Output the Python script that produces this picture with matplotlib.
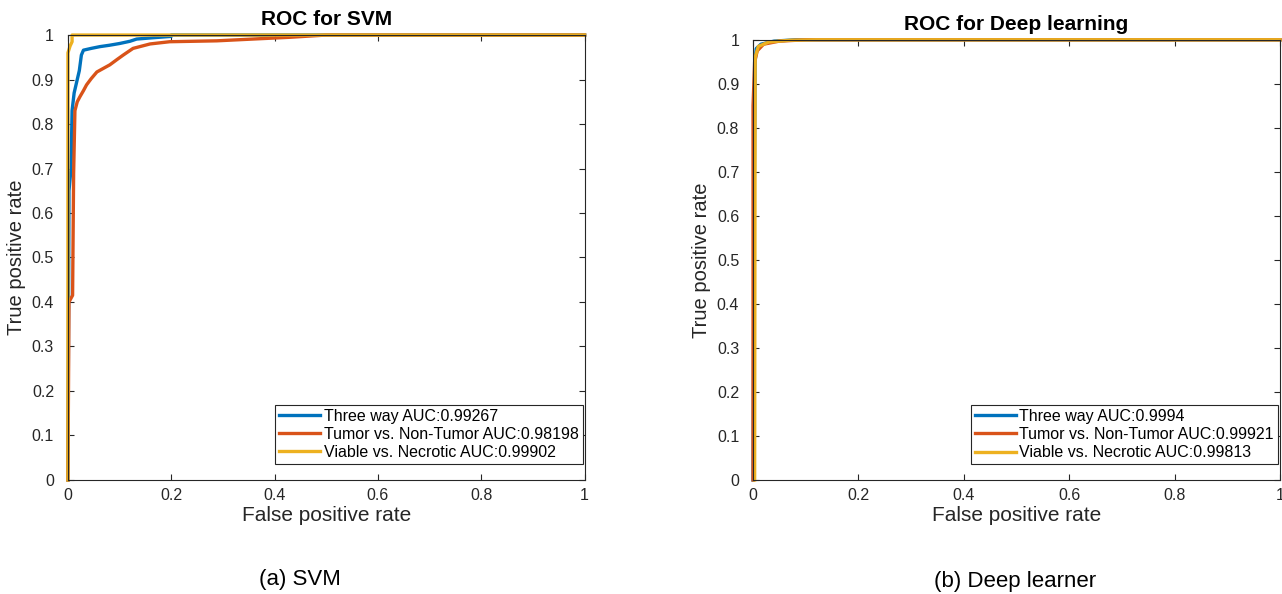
import matplotlib
matplotlib.use("Agg")
import matplotlib.pyplot as plt

plt.rcParams['font.family'] = ['Liberation Sans', 'DejaVu Sans']

# MATLAB default line colours
c_blue = '#0072BD'
c_orange = '#D95319'
c_yellow = '#EDB120'

# ---- SVM ROC curves ----
svm_three_fpr = [0.0, 0.002, 0.006, 0.008, 0.012, 0.016, 0.022, 0.026, 0.03, 0.045, 0.062, 0.08, 0.10, 0.12, 0.133, 0.165, 0.20, 0.20, 1.0]
svm_three_tpr = [0.0, 0.65, 0.70, 0.83, 0.87, 0.89, 0.92, 0.955, 0.966, 0.970, 0.974, 0.977, 0.981, 0.986, 0.991, 0.994, 0.997, 1.0, 1.0]

svm_tumor_fpr = [0.0, 0.002, 0.009, 0.011, 0.0135, 0.018, 0.023, 0.03, 0.036, 0.045, 0.056, 0.07, 0.081, 0.095, 0.107, 0.126, 0.159, 0.197, 0.288, 0.358, 0.43, 0.50, 1.0]
svm_tumor_tpr = [0.0, 0.40, 0.415, 0.69, 0.83, 0.85, 0.861, 0.875, 0.888, 0.902, 0.917, 0.926, 0.933, 0.945, 0.955, 0.970, 0.980, 0.985, 0.987, 0.991, 0.995, 1.0, 1.0]

svm_viable_fpr = [0.0, 0.0, 0.004, 0.008, 0.008, 1.0]
svm_viable_tpr = [0.0, 0.96, 0.975, 0.985, 1.0, 1.0]

# ---- Deep learning ROC curves ----
dl_three_fpr = [0.0, 0.002, 0.004, 0.006, 0.015, 0.04, 0.08, 1.0]
dl_three_tpr = [0.0, 0.60, 0.95, 0.98, 0.99, 0.997, 1.0, 1.0]

dl_tumor_fpr = [0.0, 0.0, 0.003, 0.008, 0.02, 0.05, 0.10, 1.0]
dl_tumor_tpr = [0.0, 0.85, 0.95, 0.975, 0.99, 0.997, 1.0, 1.0]

dl_viable_fpr = [0.003, 0.004, 0.01, 0.03, 0.07, 0.12, 1.0]
dl_viable_tpr = [0.0, 0.96, 0.985, 0.995, 0.999, 1.0, 1.0]

svm_labels = ["Three way AUC:0.99267", "Tumor vs. Non-Tumor AUC:0.98198", "Viable vs. Necrotic AUC:0.99902"]
dl_labels = ["Three way AUC:0.9994", "Tumor vs. Non-Tumor AUC:0.99921", "Viable vs. Necrotic AUC:0.99813"]

ticks = [0, 0.2, 0.4, 0.6, 0.8, 1]
yticks = [0, 0.1, 0.2, 0.3, 0.4, 0.5, 0.6, 0.7, 0.8, 0.9, 1]
tick_labels = ['0', '0.2', '0.4', '0.6', '0.8', '1']
ytick_labels = ['0', '0.1', '0.2', '0.3', '0.4', '0.5', '0.6', '0.7', '0.8', '0.9', '1']

fig = plt.figure(figsize=(12.82, 5.94), dpi=100)
ax1 = fig.add_axes([0.053, 0.192, 0.403, 0.749])
ax2 = fig.add_axes([0.5874, 0.192, 0.411, 0.741])

dark = '#262626'


def style_axes(ax, title):
    ax.set_xlim(0, 1)
    ax.set_ylim(0, 1)
    ax.set_xticks(ticks)
    ax.set_xticklabels(tick_labels)
    ax.set_yticks(yticks)
    ax.set_yticklabels(ytick_labels)
    ax.tick_params(direction='in', top=True, right=True, length=4, width=0.8,
                   colors=dark, labelsize=11.5)
    ax.tick_params(axis='y', pad=10)
    ax.tick_params(axis='x', pad=6)
    for s in ax.spines.values():
        s.set_color(dark)
        s.set_linewidth(0.8)
    ax.set_xlabel("False positive rate", fontsize=15, color=dark, labelpad=2)
    ax.set_ylabel("True positive rate", fontsize=14.5, color=dark, labelpad=4)
    ax.set_title(title, fontsize=15, fontweight='bold', pad=7)


def add_legend(ax):
    leg = ax.legend(loc='lower right', bbox_to_anchor=(0.996, 0.036), fontsize=11.5,
                    fancybox=False, edgecolor=dark, handlelength=2.6, handletextpad=0.2,
                    borderpad=0.25, labelspacing=0.2, borderaxespad=0, framealpha=1)
    leg.get_frame().set_linewidth(0.8)


# SVM panel
ax1.plot(svm_three_fpr, svm_three_tpr, color=c_blue, lw=2.4, label=svm_labels[0], clip_on=False)
ax1.plot(svm_tumor_fpr, svm_tumor_tpr, color=c_orange, lw=2.4, label=svm_labels[1], clip_on=False)
ax1.plot(svm_viable_fpr, svm_viable_tpr, color=c_yellow, lw=2.4, label=svm_labels[2], clip_on=False)
style_axes(ax1, "ROC for SVM")
add_legend(ax1)

# Deep learning panel
ax2.plot(dl_three_fpr, dl_three_tpr, color=c_blue, lw=2.4, label=dl_labels[0], clip_on=False)
ax2.plot(dl_tumor_fpr, dl_tumor_tpr, color=c_orange, lw=2.4, label=dl_labels[1], clip_on=False)
ax2.plot(dl_viable_fpr, dl_viable_tpr, color=c_yellow, lw=2.4, label=dl_labels[2], clip_on=False)
style_axes(ax2, "ROC for Deep learning")
add_legend(ax2)

# sub captions
fig.text(300 / 1282, 1 - 580 / 594, "(a) SVM", ha='center', va='center', fontsize=16)
fig.text(1015 / 1282, 1 - 582 / 594, "(b) Deep learner", ha='center', va='center', fontsize=16)

fig.savefig("out.png", dpi=100)
